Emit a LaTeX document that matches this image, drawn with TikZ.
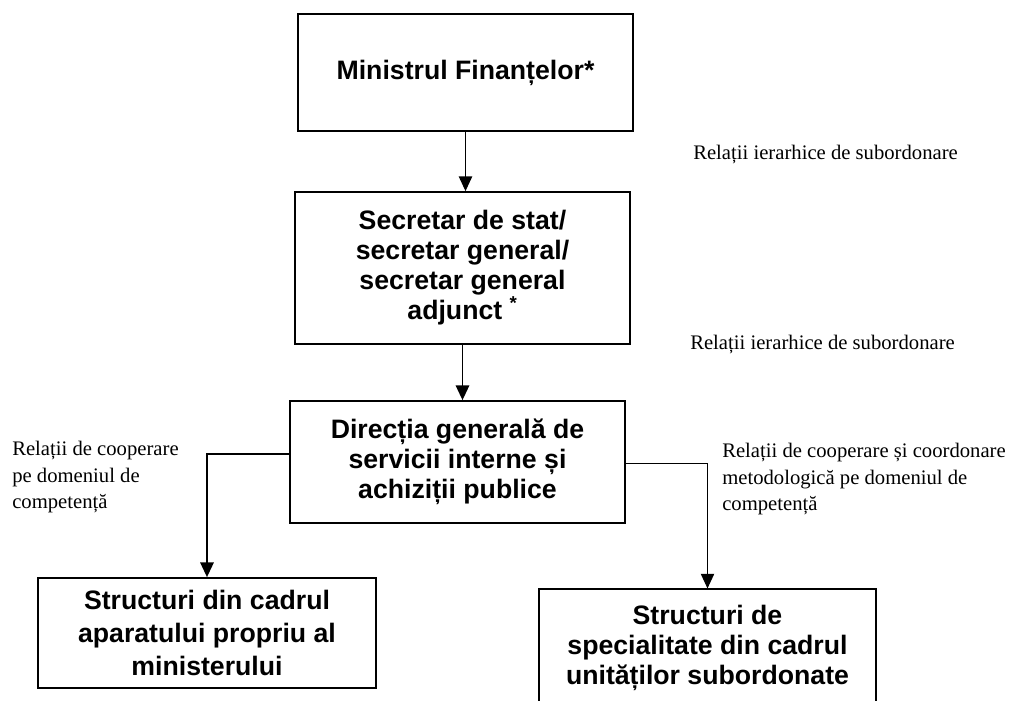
\documentclass[tikz,border=0pt]{standalone}
\usepackage{fontspec}
\setmainfont{Liberation Serif}
\setsansfont{Liberation Sans}
\usetikzlibrary{arrows.meta}

\tikzset{
  box/.style={draw,line width=1.3pt,inner sep=0pt,align=center,
    font=\sffamily\bfseries\fontsize{20}{22.5}\selectfont},
  rel/.style={inner sep=0pt,align=left,font=\fontsize{15.5}{20}\selectfont},
  arr/.style={line width=#1,-{Triangle[width=10pt,length=11pt]}},
  arr/.default=0.8pt
}

\begin{document}
\begin{tikzpicture}[x=0.75pt,y=-0.75pt]
  \path[use as bounding box,fill=white] (0,0) rectangle (1024,700);
  % the boxes, top to bottom
  \node[box,minimum width=251pt,minimum height=88pt] (fin) at (465.5,72.5)
    {Ministrul Finanțelor*};
  \node[box,minimum width=251pt,minimum height=114pt] (secr) at (462.5,268)
    {Secretar de stat/\\secretar general/\\secretar general\\adjunct \textsuperscript{*}};
  \node[box,minimum width=251pt,minimum height=91.5pt] (dir) at (457.5,462)
    {Direcția generală de\\servicii interne și\\achiziții publice};
  \node[box,minimum width=253.5pt,minimum height=82.5pt,
    font=\sffamily\bfseries\fontsize{20}{25}\selectfont] (apar) at (207,633)
    {Structuri din cadrul\\aparatului propriu al\\ministerului};
  \node[box,minimum width=253pt,minimum height=88pt] (unit) at (707.5,648)
    {Structuri de\\specialitate din cadrul\\unităților subordonate};
  % connectors
  \draw[arr] (fin.south) -- (fin.south |- secr.north);
  \draw[arr=1.4pt] (secr.south) -- (secr.south |- dir.north);
  \draw[arr=1.4pt] ([yshift=6pt]dir.west) -| (apar.north);
  \draw[arr] ([yshift=-1pt]dir.east) -| (unit.north);
  % relation labels
  \node[rel,anchor=west] (ier1) at (693,155) {Relații ierarhice de subordonare};
  \node[rel,anchor=west] (ier2) at (690,345) {Relații ierarhice de subordonare};
  \node[rel,anchor=north west] (coop) at (12,441)
    {Relații de cooperare\\pe domeniul de\\competență};
  \node[rel,anchor=north west] (coord) at (722,443)
    {Relații de cooperare și coordonare\\metodologică pe domeniul de\\competență};
\end{tikzpicture}
\end{document}
